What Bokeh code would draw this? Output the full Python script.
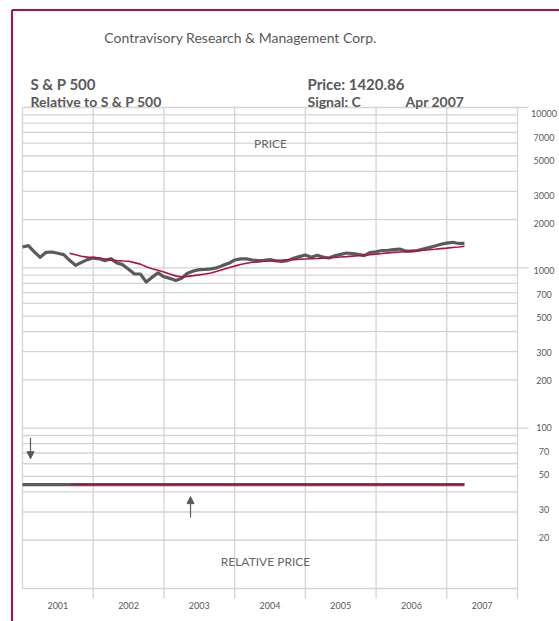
import math
from bokeh.plotting import figure
from bokeh.models import Range1d, LogScale, Arrow, NormalHead
from bokeh.core.properties import value
from bokeh.embed import file_html
from bokeh.resources import INLINE

# ---------------- data ----------------
first_year = 2001
last_year = 2008
years = ["2001", "2002", "2003", "2004", "2005", "2006", "2007"]

# monthly S&P 500, Jan 2001 .. Apr 2007
price = [1349, 1376, 1259, 1163, 1250, 1255, 1232, 1209, 1114, 1036, 1082, 1125,
         1151, 1138, 1109, 1141, 1071, 1047, 979, 915, 915, 815, 872, 931,
         879, 860, 835, 860, 924, 955, 974, 979, 986, 1000, 1036, 1067,
         1119, 1138, 1138, 1119, 1109, 1114, 1125, 1106, 1098, 1109, 1146, 1175,
         1202, 1163, 1197, 1166, 1151, 1189, 1214, 1237, 1228, 1214, 1192, 1246,
         1259, 1283, 1287, 1299, 1309, 1273, 1271, 1283, 1309, 1337, 1368, 1402,
         1427, 1443, 1419, 1421]
# moving average, starting Sep 2001 (month index 8)
ma_start = 8
price_ma = [1234, 1206, 1180, 1166,
            1163, 1150, 1134, 1117, 1109, 1103, 1098, 1078, 1055, 1015, 986, 965,
            941, 915, 891, 876, 885, 894, 904, 915, 929, 951, 976, 1000,
            1025, 1049, 1067, 1083, 1090, 1098, 1103, 1109, 1114, 1122, 1125, 1130,
            1135, 1140, 1143, 1148, 1151, 1160, 1168, 1175, 1183, 1190, 1197, 1207,
            1218, 1228, 1239, 1248, 1255, 1262, 1271, 1281, 1288, 1296, 1305, 1318,
            1328, 1339, 1350, 1362]
rel_price = [44.5, 44.5, 44.5, 44.5, 44.5, 44.5, 44.5, 44.5, 44.5, 44.5, 44.5, 44.5,
             44.5, 44.5, 44.5, 44.5, 44.5, 44.5, 44.5, 44.5, 44.5, 44.5, 44.5, 44.5,
             44.5, 44.5, 44.5, 44.5, 44.5, 44.5, 44.5, 44.5, 44.5, 44.5, 44.5, 44.5,
             44.5, 44.5, 44.5, 44.5, 44.5, 44.5, 44.5, 44.5, 44.5, 44.5, 44.5, 44.5,
             44.5, 44.5, 44.5, 44.5, 44.5, 44.5, 44.5, 44.5, 44.5, 44.5, 44.5, 44.5,
             44.5, 44.5, 44.5, 44.5, 44.5, 44.5, 44.5, 44.5, 44.5, 44.5, 44.5, 44.5,
             44.5, 44.5, 44.5, 44.5]
rel_ma = [44.5, 44.5, 44.5, 44.5,
          44.5, 44.5, 44.5, 44.5, 44.5, 44.5, 44.5, 44.5, 44.5, 44.5, 44.5, 44.5,
          44.5, 44.5, 44.5, 44.5, 44.5, 44.5, 44.5, 44.5, 44.5, 44.5, 44.5, 44.5,
          44.5, 44.5, 44.5, 44.5, 44.5, 44.5, 44.5, 44.5, 44.5, 44.5, 44.5, 44.5,
          44.5, 44.5, 44.5, 44.5, 44.5, 44.5, 44.5, 44.5, 44.5, 44.5, 44.5, 44.5,
          44.5, 44.5, 44.5, 44.5, 44.5, 44.5, 44.5, 44.5, 44.5, 44.5, 44.5, 44.5,
          44.5, 44.5, 44.5, 44.5]

tick_values = [10000, 7000, 5000, 3000, 2000, 1000, 700, 500, 300, 200, 100, 70, 50, 30, 20]
tick_labels = ["10000", "7000", "5000", "3000", "2000", "1000", "700", "500", "300", "200",
               "100", "70", "50", "30", "20"]
grid_values = [10, 20, 30, 40, 50, 60, 70, 80, 90, 100, 200, 300, 400, 500, 600, 700, 800, 900,
               1000, 2000, 3000, 4000, 5000, 6000, 7000, 8000, 9000, 10000]
long_ticks = [10000, 1000, 100]

# signals: (date, arrow tail level, arrow tip level)
sell_signal = (2001.113, 87.0, 64.5)
buy_signal = (2003.376, 27.7, 37.4)

# ---------------- layout helpers (picture pixels -> data) ----------------
PX_YEAR = 495 / 7
PX_DEC = 481 / 3
W, H = 559, 621


def xd(px):
    return first_year + (px - 22) / PX_YEAR


def yd(py):
    return 10 ** (1 + (588 - py) / PX_DEC)


RED = "#b0123c"
GRID = "#d4d4d4"
DARK = "#5a5a5a"
TXT = "#595959"
FONT = value("Lato")

p = figure(width=W, height=H, output_backend="svg", toolbar_location=None,
           x_axis_location=None, y_axis_location=None, min_border=0,
           x_range=Range1d(xd(0), xd(W)), y_range=Range1d(yd(H), yd(0)),
           y_axis_type="log")
p.y_scale = LogScale()
p.outline_line_color = None
p.grid.visible = False
p.background_fill_color = "white"
p.border_fill_color = "white"

# red page border
p.segment(x0=[xd(11.5), xd(11.5)], y0=[yd(9.5), yd(9.5)], x1=[xd(11.5), xd(600)],
          y1=[yd(650), yd(9.5)], line_color=RED, line_width=2)

# horizontal grid
p.segment(x0=[first_year] * len(grid_values), x1=[last_year] * len(grid_values),
          y0=grid_values, y1=grid_values, line_color=GRID, line_width=1.3)
p.segment(x0=[last_year] * len(long_ticks), x1=[xd(528)] * len(long_ticks),
          y0=long_ticks, y1=long_ticks, line_color=GRID, line_width=1.3)
# vertical grid
vx = list(range(first_year, last_year + 1))
vy0 = [10] + [yd(598)] * (len(vx) - 1)
p.segment(x0=vx, x1=vx, y0=vy0, y1=[10000] * len(vx), line_color=GRID, line_width=1.3)

# price panel
months = [first_year + i / 12 for i in range(len(price))]
ma_months = [first_year + (ma_start + i) / 12 for i in range(len(price_ma))]
p.line(months, price, line_color=DARK, line_width=3.2, line_join="round")
p.line(ma_months, price_ma, line_color=RED, line_width=1.6)

# relative panel
p.line(months[:len(rel_price)], rel_price, line_color=DARK, line_width=3.2)
p.line(ma_months[:len(rel_ma)], rel_ma, line_color=RED, line_width=1.6)

# signal arrows
for (d, tail, tip) in (sell_signal, buy_signal):
    p.add_layout(Arrow(x_start=d, y_start=tail, x_end=d, y_end=tip, line_color=DARK,
                       line_width=1.2,
                       end=NormalHead(size=7, fill_color=DARK, line_color=DARK)))

# right-hand scale labels
offs = [6 - 3.4 * (4 - math.log10(v)) for v in tick_values]
p.text(x=[xd(543.5)] * len(tick_values), y=tick_values, text=tick_labels, y_offset=offs,
       text_font=FONT, text_font_size="9px", text_color=TXT, text_align="center",
       text_baseline="middle")

# year labels
p.text(x=[first_year + i + 0.5 for i in range(len(years))], y=[yd(605)] * len(years),
       text=years, text_font=FONT, text_font_size="9px", text_color=TXT,
       text_align="center", text_baseline="middle")

# headings
p.text(x=[xd(240)], y=[yd(37)], text=["Contravisory Research & Management Corp."],
       text_font=FONT, text_font_size="14px", text_color=TXT, text_align="center",
       text_baseline="alphabetic")
p.text(x=[xd(30), xd(307)], y=[yd(83), yd(83)], text=["S & P 500", "Price: 1420.86"],
       text_font=FONT, text_font_size="15px", text_font_style="bold", text_color=TXT,
       text_align="left", text_baseline="alphabetic")
p.text(x=[xd(30), xd(307), xd(405)], y=[yd(100.7)] * 3,
       text=["Relative to S & P 500", "Signal: C", "Apr 2007"],
       text_font=FONT, text_font_size="14px", text_font_style="bold", text_color=TXT,
       text_align="left", text_baseline="alphabetic")
p.text(x=[xd(270), xd(265)], y=[yd(143), yd(560.5)], text=["PRICE", "RELATIVE PRICE"],
       text_font=FONT, text_font_size="12px", text_color="#666666", text_align="center",
       text_baseline="alphabetic")

open("out.html", "w").write(file_html(p, INLINE))
